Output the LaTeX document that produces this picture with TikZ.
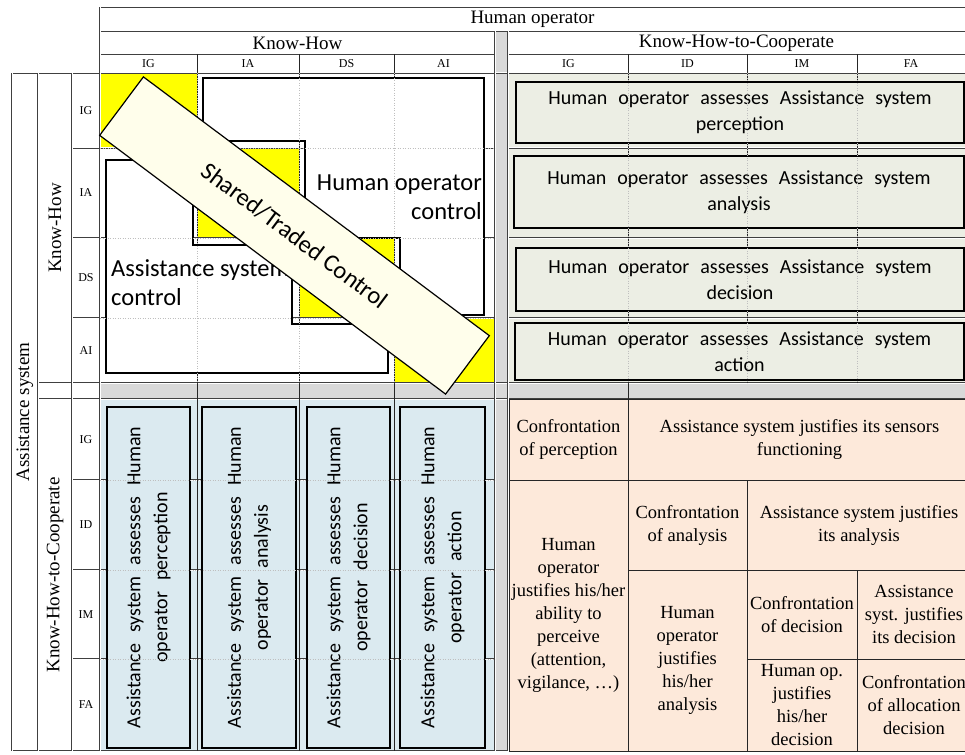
\documentclass[tikz,border=0pt]{standalone}
\usepackage{fontspec}
\setmainfont{Liberation Serif}
\newfontfamily\calibri{Carlito}
\usetikzlibrary{positioning}

\definecolor{kyellow}{HTML}{FFFF00}
\definecolor{kgrey}{HTML}{D9D9D9}
\definecolor{kgreen}{HTML}{ECEEE4}
\definecolor{kblue}{HTML}{DBEAF0}
\definecolor{kpeach}{HTML}{FDE9DA}
\newcommand\widewords{\spaceskip=11pt plus 2pt\relax}

\begin{document}
\begin{tikzpicture}[
    x=1pt, y=-1pt,
    dbl/.style={draw=black!75, line width=2.4pt, postaction={draw=white, line width=1pt}},
    thinline/.style={draw=black!85, line width=0.7pt},
    faint/.style={draw=black!25, dotted, line width=0.5pt},
    hdr/.style={font=\fontsize{19}{22}\selectfont, inner sep=0pt},
    subhdr/.style={font=\fontsize{12}{14}\selectfont, inner sep=0pt},
    ctrlbox/.style={draw=black, line width=1.4pt, fill=white},
    ctrltext/.style={font=\calibri\fontsize{24.5}{29}\selectfont, inner sep=0pt},
    sharedband/.style={
        draw=black,
        line width=1.2pt,
        fill=yellow!8,
        rotate=-36.8,
        minimum width=432pt,
        minimum height=73pt,
        font=\calibri\fontsize{24.5}{29}\selectfont
    },
    hoassess/.style={
        draw=black,
        line width=1.3pt,
        fill=kgreen,
        align=center,
        inner sep=0pt,
        font=\calibri\fontsize{20}{26}\selectfont\widewords
    },
    asassess/.style={
        draw=black,
        line width=1.3pt,
        fill=kblue,
        align=center,
        inner sep=0pt,
        rotate=90,
        minimum width=341pt,
        font=\calibri\fontsize{20}{27}\selectfont\widewords
    },
    justcell/.style={
        draw=black!85,
        line width=0.7pt,
        fill=kpeach,
        align=center,
        inner sep=0pt,
        font=\fontsize{18.5}{23}\selectfont
    }
]
\useasboundingbox (0,0) rectangle (965,754);

% Background fills
\fill[kgreen] (508,73) rectangle (965,383);
\fill[kblue] (100,399) rectangle (495,751);
\fill[kgrey] (495,31) rectangle (508,751);
\fill[kgrey] (100,383) rectangle (965,399);
\fill[kyellow] (100,73) rectangle (197,148);
\fill[kyellow] (197,148) rectangle (299,238);
\fill[kyellow] (299,238) rectangle (394,318);
\fill[kyellow] (394,318) rectangle (495,383);

% Table lines
\draw[dbl] (100,7) -- (965,7);
\draw[dbl] (100,31) -- (965,31);
\draw[dbl] (100,54) -- (495,54);
\draw[dbl] (508,54) -- (965,54);
\draw[dbl] (12,73) -- (965,73);
\foreach \y in {148,238,318} {
    \draw[dbl] (72,\y) -- (495,\y);
    \draw[dbl] (508,\y) -- (965,\y);
}
\draw[dbl] (38,383) -- (965,383);
\draw[dbl] (38,399) -- (965,399);
\foreach \y in {480,570,659}
    \draw[dbl] (72,\y) -- (495,\y);
\draw[dbl] (12,751) -- (965,751);
\foreach \x in {12,38,72}
    \draw[dbl] (\x,73) -- (\x,751);
\draw[dbl] (100,7) -- (100,751);
\draw[dbl] (495,31) -- (495,751);
\draw[dbl] (508,31) -- (508,751);
\foreach \x in {197,299,394}
    \draw[thinline] (\x,54) -- (\x,751);
\foreach \x in {628,747,857}
    \draw[thinline] (\x,54) -- (\x,383);
\draw[thinline] (628,383) -- (628,399);

% Control areas
\draw[ctrlbox] (203,78) -- (484,78) -- (484,315) -- (400,315) -- (400,238)
    -- (305,238) -- (305,141) -- (203,141) -- cycle;
\draw[ctrlbox] (106,160) -- (193,160) -- (193,245) -- (292,245) -- (292,324)
    -- (388,324) -- (388,373) -- (106,373) -- cycle;
\node[ctrltext, align=right, anchor=east] (hoCtrl) at (482,197) {Human operator\\control};
\node[ctrltext, align=left, anchor=west] (asCtrl) at (111,283) {Assistance system\\control};

% Human operator assesses ...
\node[hoassess, minimum width=448pt, minimum height=61pt] (hoPerc) at (740,112.5)
    {Human operator assesses Assistance system\\perception};
\node[hoassess, minimum width=450pt, minimum height=72pt] (hoAnal) at (739,192)
    {Human operator assesses Assistance system\\analysis};
\node[hoassess, minimum width=448pt, minimum height=63pt] (hoDecis) at (740,279.5)
    {Human operator assesses Assistance system\\decision};
\node[hoassess, minimum width=449pt, minimum height=57pt] (hoAct) at (739.5,351.5)
    {Human operator assesses Assistance system\\action};

% Assistance system assesses ...
\node[asassess, minimum height=83pt] (asPerc) at (148.5,577.5)
    {Assistance system assesses Human\\operator perception};
\node[asassess, minimum height=94pt] (asAnal) at (249,577.5)
    {Assistance system assesses Human\\operator analysis};
\node[asassess, minimum height=83pt] (asDecis) at (348.5,577.5)
    {Assistance system assesses Human\\operator decision};
\node[asassess, minimum height=85pt] (asAct) at (442.5,577.5)
    {Assistance system assesses Human\\operator action};

% Justification cells
\node[justcell, minimum width=119pt, minimum height=81pt] (confPerc) at (568.5,439.5)
    {Confrontation\\of perception};
\node[justcell, minimum width=343pt, minimum height=81pt] (asSensors) at (799.5,439.5)
    {Assistance system justifies its sensors\\functioning};
\node[justcell, minimum width=119pt, minimum height=271pt] (hoPerceive) at (568.5,615.5)
    {Human\\operator\\justifies his/her\\ability to\\perceive\\(attention,\\vigilance, \ldots)};
\node[justcell, minimum width=119pt, minimum height=90pt] (confAnal) at (687.5,525)
    {Confrontation\\of analysis};
\node[justcell, minimum width=224pt, minimum height=90pt] (asJustAnal) at (859,525)
    {Assistance system justifies\\its analysis};
\node[justcell, minimum width=119pt, minimum height=181pt] (hoJustAnal) at (687.5,660.5)
    {Human\\operator\\justifies\\his/her\\analysis};
\node[justcell, minimum width=110pt, minimum height=89pt] (confDecis) at (802,614.5)
    {Confrontation\\of decision};
\node[justcell, minimum width=114pt, minimum height=89pt] (asJustDecis) at (914,614.5)
    {Assistance\\syst. justifies\\its decision};
\node[justcell, minimum width=110pt, minimum height=92pt] (hoJustDecis) at (802,705)
    {Human op.\\justifies\\his/her\\decision};
\node[justcell, minimum width=114pt, minimum height=92pt] (confAlloc) at (914,705)
    {Confrontation\\of allocation\\decision};

% Faint grid seen through the boxes
\foreach \x in {197,299,394}
    \draw[faint] (\x,73) -- (\x,383);
\foreach \y in {148,238,318}
    \draw[faint] (100,\y) -- (495,\y);
\foreach \x in {628,747,857}
    \draw[faint] (\x,73) -- (\x,383);
\foreach \y in {480,570,659}
    \draw[faint] (100,\y) -- (495,\y);

% Shared/Traded band
\node[sharedband] (shared) at (294.5,235.5) {Shared/Traded Control};

% Headers
\node[hdr] (human) at (532.5,19) {Human operator};
\node[hdr] (khTop) at (297.5,43) {Know-How};
\node[hdr] (khcTop) at (736.5,43) {Know-How-to-Cooperate};
\foreach \lab/\x in {IG/148.5,IA/248,DS/346.5,AI/443.5}
    \node[subhdr] (kh-\lab) at (\x,64) {\lab};
\foreach \lab/\x in {IG/568.5,ID/687.5,IM/802,FA/911}
    \node[subhdr] (khc-\lab) at (\x,64) {\lab};
\node[hdr, rotate=90] (assist) at (25,412) {Assistance system};
\node[hdr, rotate=90] (khLeft) at (55,228) {Know-How};
\node[hdr, rotate=90] (khcLeft) at (55,575) {Know-How-to-Cooperate};
\foreach \lab/\y in {IG/110.5,IA/193,DS/278,AI/350.5}
    \node[subhdr] (rkh-\lab) at (86,\y) {\lab};
\foreach \lab/\y in {IG/439.5,ID/525,IM/614.5,FA/705}
    \node[subhdr] (rkhc-\lab) at (86,\y) {\lab};

\end{tikzpicture}
\end{document}
